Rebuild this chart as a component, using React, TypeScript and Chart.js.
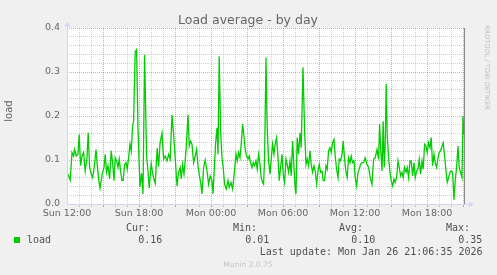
import React, { useEffect, useRef } from 'react';
import { Chart, registerables } from 'chart.js';

Chart.register(...registerables);

// minutes since Sun 12:00
const minutes = [0,8,16,25,33,38,46,55,61,68,75,83,91,100,106,113,121,128,136,145,151,158,165,171,178,185,191,198,205,213,221,228,235,241,248,255,261,268,275,281,288,295,301,308,315,321,328,333,341,348,355,365,373,380,388,398,406,411,421,431,441,451,458,465,475,483,491,500,508,516,525,533,541,550,558,566,571,578,585,595,605,611,618,625,633,641,648,655,661,668,675,683,691,700,708,716,725,730,736,743,750,755,761,768,775,781,788,796,805,811,820,828,836,845,851,858,865,871,878,885,891,898,905,911,918,925,931,938,945,951,958,965,971,978,983,988,995,1001,1008,1015,1021,1028,1035,1041,1048,1055,1061,1068,1075,1081,1088,1095,1101,1108,1115,1121,1128,1135,1141,1145,1151,1158,1165,1171,1180,1188,1195,1201,1208,1215,1221,1228,1235,1241,1248,1255,1261,1268,1275,1281,1288,1295,1301,1308,1315,1321,1328,1335,1341,1348,1355,1361,1368,1375,1381,1388,1395,1401,1408,1415,1421,1428,1435,1441,1448,1455,1461,1468,1475,1483,1491,1500,1508,1516,1525,1533,1541,1550,1558,1563,1570,1575,1581,1586,1591,1596,1601,1608,1615,1621,1628,1635,1641,1648,1655,1661,1668,1675,1681,1688,1695,1701,1708,1715,1721,1728,1735,1741,1748,1755,1761,1768,1775,1781,1788,1795,1801,1808,1815,1821,1828,1835,1841,1848,1855,1861,1868,1875,1881,1888,1895,1901,1908,1915,1921,1928,1935,1941,1948,1955,1961,1968,1975,1980,1985];

const load = [0.072,0.064,0.054,0.117,0.109,0.124,0.109,0.113,0.158,0.087,0.109,0.117,0.075,0.105,0.162,0.083,0.068,0.060,0.083,0.124,0.090,0.057,0.036,0.053,0.072,0.083,0.113,0.072,0.087,0.057,0.121,0.094,0.053,0.105,0.098,0.083,0.102,0.075,0.053,0.054,0.090,0.094,0.079,0.105,0.136,0.120,0.177,0.188,0.346,0.351,0.168,0.039,0.070,0.023,0.339,0.108,0.070,0.036,0.092,0.062,0.047,0.127,0.085,0.138,0.161,0.102,0.109,0.098,0.113,0.102,0.203,0.158,0.105,0.041,0.072,0.083,0.057,0.090,0.068,0.121,0.203,0.132,0.143,0.136,0.094,0.109,0.124,0.087,0.068,0.049,0.023,0.083,0.100,0.075,0.045,0.064,0.053,0.023,0.075,0.139,0.173,0.113,0.336,0.166,0.105,0.083,0.045,0.034,0.053,0.038,0.049,0.034,0.068,0.113,0.098,0.117,0.105,0.136,0.181,0.154,0.124,0.109,0.102,0.109,0.094,0.083,0.094,0.087,0.098,0.079,0.113,0.090,0.060,0.049,0.045,0.105,0.333,0.173,0.098,0.068,0.102,0.136,0.113,0.136,0.151,0.105,0.053,0.083,0.113,0.068,0.049,0.102,0.090,0.072,0.098,0.064,0.143,0.083,0.034,0.023,0.151,0.113,0.162,0.128,0.311,0.166,0.090,0.102,0.087,0.121,0.090,0.072,0.087,0.075,0.045,0.075,0.090,0.072,0.075,0.053,0.053,0.087,0.079,0.121,0.128,0.117,0.139,0.147,0.109,0.079,0.060,0.102,0.098,0.113,0.143,0.102,0.072,0.060,0.105,0.094,0.109,0.094,0.098,0.060,0.041,0.072,0.079,0.090,0.094,0.094,0.105,0.090,0.083,0.060,0.045,0.102,0.105,0.124,0.102,0.181,0.113,0.075,0.188,0.083,0.136,0.273,0.158,0.105,0.072,0.053,0.041,0.057,0.049,0.060,0.098,0.083,0.064,0.072,0.060,0.083,0.072,0.083,0.060,0.098,0.098,0.064,0.094,0.060,0.075,0.079,0.102,0.068,0.098,0.079,0.136,0.132,0.117,0.139,0.128,0.151,0.087,0.113,0.094,0.083,0.105,0.117,0.121,0.132,0.139,0.109,0.075,0.049,0.060,0.072,0.075,0.072,0.010,0.053,0.083,0.132,0.083,0.072,0.060,0.200,0.158];

const xMaxMinutes = 1985;
const xTickLabels = ['Sun 12:00', 'Sun 18:00', 'Mon 00:00', 'Mon 06:00', 'Mon 12:00', 'Mon 18:00'];
const yTickLabels = ['0.0', '0.1', '0.2', '0.3', '0.4'];
const statLabels = ['Cur:', 'Min:', 'Avg:', 'Max:'];
const statValues = ['0.16', '0.01', '0.10', '0.35'];
const seriesName = 'load';
const titleText = 'Load average - by day';
const yAxisTitle = 'load';
const lastUpdate = 'Last update: Mon Jan 26 21:06:35 2026';
const footerText = 'Munin 2.0.75';
const watermark = 'RRDTOOL / TOBI OETIKER';

const GREEN = '#00cc00';
const AXIS = '#cfd6f8';
const FONT = '#666666';
const GRID = 'rgba(140,140,140,0.4)';
const MGRID = 'rgba(170,40,40,0.4)';

const SANS = '"DejaVu Sans", sans-serif';
const MONO = '"DejaVu Sans Mono", monospace';

const bgPlugin = {
  id: 'bg',
  beforeDraw(chart: any) {
    const { ctx, chartArea } = chart;
    ctx.save();
    ctx.fillStyle = '#f0f0f0';
    ctx.fillRect(0, 0, chart.width, chart.height);
    ctx.fillStyle = '#ffffff';
    ctx.fillRect(chartArea.left, chartArea.top, chartArea.right - chartArea.left, chartArea.bottom - chartArea.top);
    ctx.restore();
  },
};

const overlayPlugin = {
  id: 'overlay',
  afterDraw(chart: any) {
    const { ctx, chartArea } = chart;
    const { left, top, right, bottom } = chartArea;
    ctx.save();
    // right edge line
    ctx.fillStyle = '#888888';
    ctx.fillRect(right, top, 1, bottom - top);
    // axes
    ctx.fillStyle = AXIS;
    ctx.fillRect(left, top - 2, 1, bottom - top + 3);
    ctx.fillRect(left, bottom, right - left + 5, 1);
    // arrows
    ctx.beginPath();
    ctx.moveTo(left + 0.5, top - 6.5);
    ctx.lineTo(left + 3.5, top - 1.5);
    ctx.lineTo(left - 2.5, top - 1.5);
    ctx.closePath();
    ctx.fill();
    ctx.beginPath();
    ctx.moveTo(right + 10, bottom + 0.5);
    ctx.lineTo(right + 5, bottom + 3.5);
    ctx.lineTo(right + 5, bottom - 2.5);
    ctx.closePath();
    ctx.fill();

    // title
    ctx.fillStyle = FONT;
    ctx.font = `12.5px ${SANS}`;
    ctx.textAlign = 'center';
    ctx.textBaseline = 'alphabetic';
    ctx.fillText(titleText, 248, 24);

    // y axis title
    ctx.save();
    ctx.translate(12, 111);
    ctx.rotate(-Math.PI / 2);
    ctx.font = `10px ${SANS}`;
    ctx.fillText(yAxisTitle, 0, 0);
    ctx.restore();

    // watermark
    ctx.save();
    ctx.translate(485, 25);
    ctx.rotate(Math.PI / 2);
    ctx.textAlign = 'left';
    ctx.fillStyle = '#bbbbbb';
    ctx.font = `6.6px ${SANS}`;
    ctx.fillText(watermark, 0, 0);
    ctx.restore();

    // legend
    ctx.fillStyle = GREEN;
    ctx.fillRect(14, 237, 6, 6);
    ctx.fillStyle = '#505050';
    ctx.font = `10px ${MONO}`;
    ctx.textAlign = 'left';
    ctx.fillText(seriesName, 27, 243);
    const labelRight = [150, 257, 363, 470];
    ctx.textAlign = 'right';
    statLabels.forEach((s, i) => ctx.fillText(s, labelRight[i], 231));
    statValues.forEach((s, i) => ctx.fillText(s, labelRight[i] + 12.3, 243));
    ctx.fillText(lastUpdate, 482.5, 255);

    // footer
    ctx.fillStyle = '#c4c4c4';
    ctx.font = `7.5px ${SANS}`;
    ctx.textAlign = 'center';
    ctx.fillText(footerText, 248, 267);
    ctx.restore();
  },
};

const hourTicks: { value: number }[] = [];
for (let m = 0; m <= xMaxMinutes; m += 60) hourTicks.push({ value: m });
const yTicks: { value: number }[] = [];
for (let i = 0; i <= 20; i++) yTicks.push({ value: i / 50 });

const isTenth = (v: number) => Math.abs(v * 10 - Math.round(v * 10)) < 1e-6;

export default function App() {
  const ref = useRef<HTMLCanvasElement>(null);
  useEffect(() => {
    if (!ref.current) return;
    const chart = new Chart(ref.current, {
      type: 'line',
      data: {
        datasets: [
          {
            label: seriesName,
            data: minutes.map((m, i) => ({ x: m, y: load[i] })),
            borderColor: GREEN,
            borderWidth: 1.3,
            pointRadius: 0,
            tension: 0,
            fill: false,
          },
        ],
      },
      options: {
        responsive: false,
        animation: false,
        devicePixelRatio: 1,
        events: [],
        layout: { padding: { left: 0, right: 33, top: 28, bottom: 0 } },
        plugins: { legend: { display: false }, tooltip: { enabled: false }, title: { display: false } },
        scales: {
          x: {
            type: 'linear',
            min: 0,
            max: xMaxMinutes,
            afterBuildTicks: (s: any) => {
              s.ticks = hourTicks.map((t) => ({ ...t }));
            },
            afterFit: (s: any) => {
              s.height = 71;
            },
            grid: {
              color: (c: any) => {
                const v = c.tick?.value ?? 0;
                if (v === 0) return 'rgba(0,0,0,0)';
                return v % 180 === 0 ? MGRID : GRID;
              },
              tickColor: (c: any) => {
                const v = c.tick?.value ?? 0;
                if (v === 0) return 'rgba(0,0,0,0)';
                return v % 180 === 0 ? MGRID : GRID;
              },
              lineWidth: 1,
              drawTicks: true,
              tickLength: 3,
            },
            border: { display: false, dash: [1, 1] },
            ticks: {
              autoSkip: false,
              maxRotation: 0,
              padding: 1,
              color: FONT,
              font: { family: SANS, size: 9.5 },
              callback: (v: any) => (v % 360 === 0 ? xTickLabels[v / 360] : ''),
            },
          },
          y: {
            type: 'linear',
            min: 0,
            max: 0.4,
            afterBuildTicks: (s: any) => {
              s.ticks = yTicks.map((t) => ({ ...t }));
            },
            afterFit: (s: any) => {
              s.width = 67;
            },
            grid: {
              color: (c: any) => {
                const v = c.tick?.value ?? 0;
                if (v === 0) return 'rgba(0,0,0,0)';
                return isTenth(v) ? MGRID : GRID;
              },
              lineWidth: 1,
              drawTicks: false,
            },
            border: { display: false, dash: [1, 1] },
            ticks: {
              autoSkip: false,
              padding: 7,
              color: FONT,
              font: { family: SANS, size: 9.5 },
              callback: (v: any) => (isTenth(v) ? yTickLabels[Math.round(v * 10)] : ''),
            },
          },
        },
      } as any,
      plugins: [bgPlugin, overlayPlugin],
    });
    return () => chart.destroy();
  }, []);
  return (
    <div style={{ position: 'absolute', left: 0, top: 0, width: 497, height: 275 }}>
      <canvas ref={ref} width={497} height={275} style={{ display: 'block' }} />
    </div>
  );
}
